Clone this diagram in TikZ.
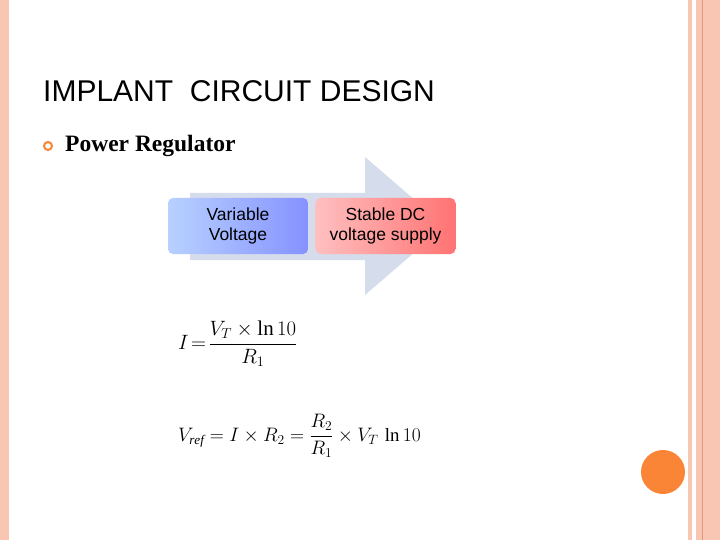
\documentclass[tikz,border=0pt]{standalone}
\usepackage{amsmath}
\usepackage{fontspec}
\setmainfont{Liberation Serif}
\newfontfamily\arial{Liberation Sans}
\usetikzlibrary{shapes.geometric}
\definecolor{salmon}{HTML}{F9C6B4}
\definecolor{darksal}{HTML}{E8967A}
\definecolor{orng}{HTML}{FB8536}
\definecolor{arrowc}{HTML}{D5DCEC}
\tikzset{box/.style={rounded corners=5pt,minimum width=140pt,minimum height=56pt,align=center,font=\arial\fontsize{17.5pt}{20pt}\selectfont,inner sep=0pt}}
\begin{document}
\begin{tikzpicture}[x=1pt,y=-1pt]
\useasboundingbox (0,0) rectangle (720,540);
\fill[white] (0,0) rectangle (720,540);
\fill[salmon] (0,0) rectangle (9,540);
\fill[salmon] (688,0) rectangle (692,540);
\fill[salmon] (696,0) rectangle (720,540);
\draw[darksal,line width=0.8pt] (702.5,0) -- (702.5,540);
\fill[orng] (663,472) circle (22);
\node[anchor=west,inner sep=0pt,font=\arial\fontsize{30pt}{32pt}\selectfont] (title) at (43,91) {IMPLANT\ \ CIRCUIT DESIGN};
\node[circle,draw=orng,line width=2pt,inner sep=0pt,minimum size=8pt] (bul) at (48,146) {};
\node[anchor=west,inner sep=0pt,font=\bfseries\fontsize{23.5pt}{26pt}\selectfont] (pr) at (65,146) {Power Regulator};
\fill[arrowc] (190,193) -- (365,193) -- (365,157) -- (445,226) -- (365,295) -- (365,260) -- (190,260) -- cycle;
\node[box,left color=blue!20!white!90!cyan,right color=blue!45!white!95!cyan] (vv) at (238,226) {Variable\\Voltage};
\node[box,left color=red!25!white,right color=red!55!white] (dc) at (385.5,226) {Stable DC\\voltage supply};
\node[anchor=west,inner sep=0pt,font=\fontsize{21pt}{24pt}\selectfont] (eq1) at (178,344) {$I\!=\!\dfrac{V_T\times\ln 10}{R_1}$};
\node[anchor=west,inner sep=0pt,font=\fontsize{20pt}{24pt}\selectfont] (eq2) at (178,436) {\scalebox{0.94}{$V_{\mathit{ref}}=I\times R_2=\dfrac{R_2}{R_1}\times V_T\,\ln 10$}};
\end{tikzpicture}
\end{document}
